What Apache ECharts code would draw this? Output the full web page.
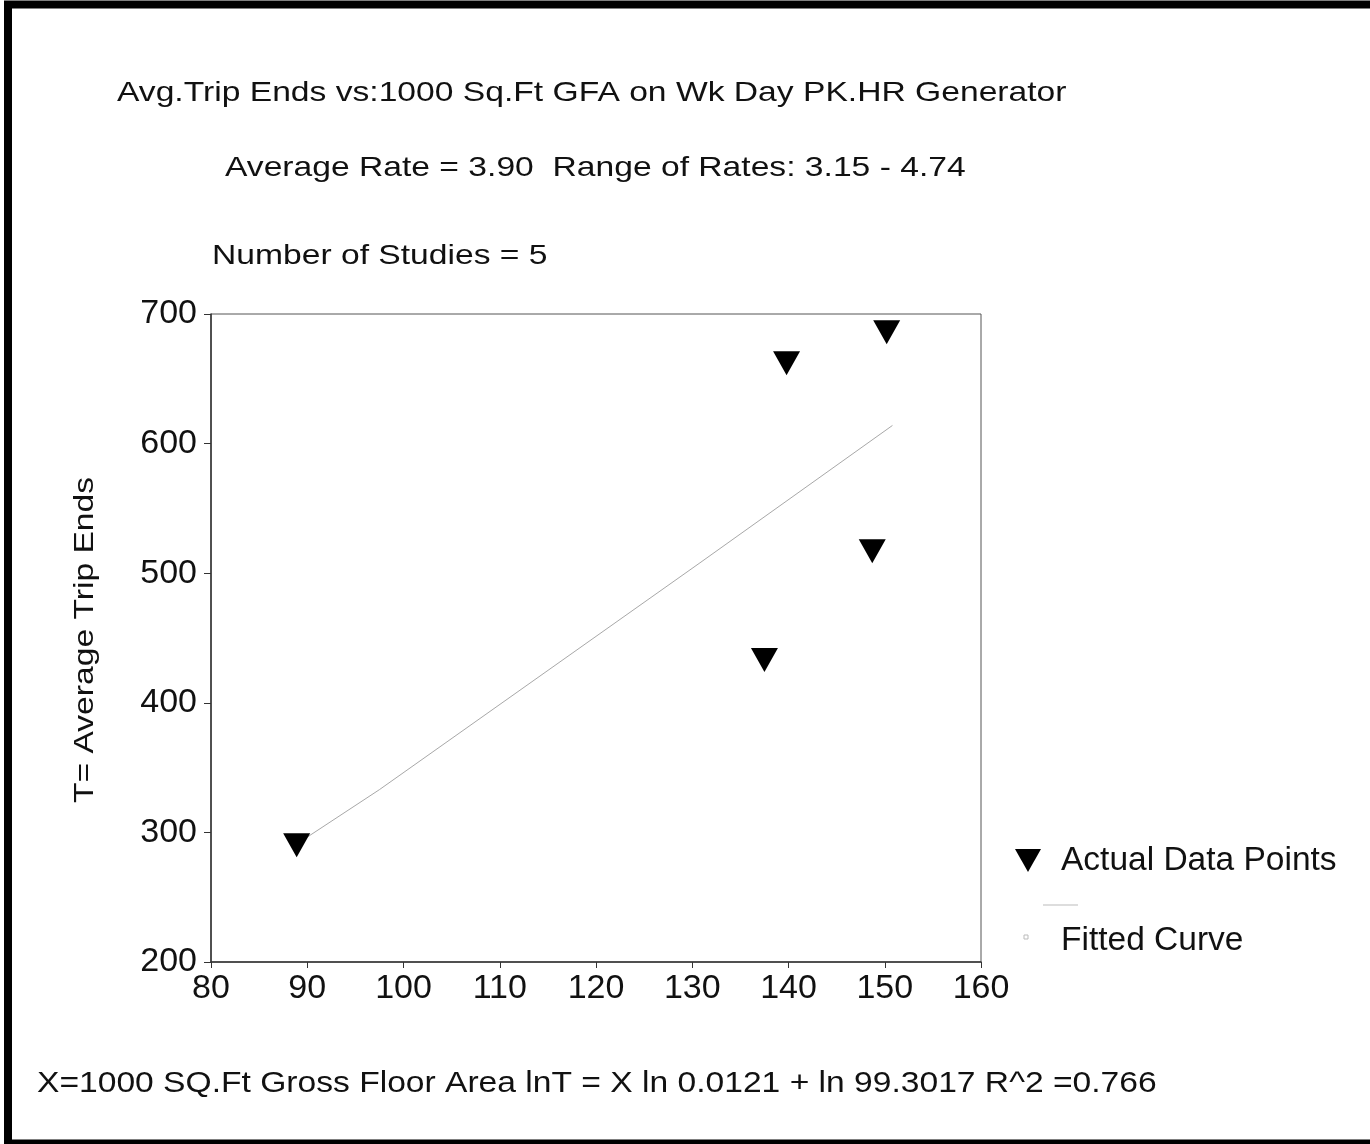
<!DOCTYPE html>
<html>
<head>
<meta charset="utf-8">
<title>Avg. Trip Ends vs 1000 Sq.Ft GFA</title>
<script src="https://cdn.jsdelivr.net/npm/echarts@6/dist/echarts.min.js"></script>
<style>
  html, body { margin: 0; padding: 0; background: #fff; }
  #chart { width: 1370px; height: 1144px; }
</style>
</head>
<body>
<div id="chart"></div>
<script>
// Study observations: gross floor area (1000 sq.ft) and average trip ends
const gfaValues = [88.9, 137.5, 139.8, 148.7, 150.2];
const tripEnds = [290, 433, 662, 517, 686];

// Fitted curve as plotted
const fitGfa = [88.9, 97.5, 130.8, 150.8];
const fitTrips = [291, 333, 508, 614];

// Axis ticks
const xTicks = [80, 90, 100, 110, 120, 130, 140, 150, 160];
const yTicks = [200, 300, 400, 500, 600, 700];

const titleLines = [
  'Avg.Trip Ends vs:1000 Sq.Ft GFA on Wk Day PK.HR Generator',
  'Average Rate = 3.90  Range of Rates: 3.15 - 4.74',
  'Number of Studies = 5'
];
const yTitle = 'T= Average Trip Ends';
const footer = 'X=1000 SQ.Ft Gross Floor Area lnT = X ln 0.0121 + ln 99.3017 R^2 =0.766';
const legendNames = ['Actual Data Points', 'Fitted Curve'];

const FONT = '"Liberation Sans", Arial, Helvetica, sans-serif';
const STRETCH = 1.18;

const chart = echarts.init(document.getElementById('chart'), null, { renderer: 'canvas' });

function label(text, x, y, size, stretch) {
  return {
    type: 'text', x: x, y: y, scaleX: stretch,
    style: {
      text: text, fontFamily: FONT, fontSize: size, fill: '#111',
      align: 'left', verticalAlign: 'middle'
    }
  };
}

chart.setOption({
  animation: false,
  backgroundColor: '#fff',
  grid: {
    left: 211, right: 389, top: 314, bottom: 182,
    show: true, borderColor: '#555', borderWidth: 1
  },
  xAxis: {
    type: 'value',
    min: xTicks[0], max: xTicks[xTicks.length - 1], interval: 10,
    axisLine: { lineStyle: { color: '#333', width: 1.5 } },
    axisTick: { length: 6, lineStyle: { color: '#333' } },
    axisLabel: { color: '#111', fontSize: 34, fontFamily: FONT, margin: 10 },
    splitLine: { show: false }
  },
  yAxis: {
    type: 'value',
    min: yTicks[0], max: yTicks[yTicks.length - 1], interval: 100,
    axisLine: { show: true, lineStyle: { color: '#333', width: 1.5 } },
    axisTick: { show: true, length: 7, lineStyle: { color: '#333' } },
    axisLabel: { color: '#111', fontSize: 34, fontFamily: FONT, margin: 14 },
    splitLine: { show: false }
  },
  series: [
    {
      name: legendNames[1],
      type: 'line',
      data: fitGfa.map((x, i) => [x, fitTrips[i]]),
      showSymbol: false,
      smooth: false,
      lineStyle: { color: '#a8a8a8', width: 1 },
      z: 2
    },
    {
      name: legendNames[0],
      type: 'scatter',
      data: gfaValues.map((x, i) => [x, tripEnds[i]]),
      symbol: 'triangle',
      symbolSize: [27, 24],
      symbolRotate: 180,
      itemStyle: { color: '#000', opacity: 1 },
      z: 3
    }
  ],
  graphic: [
    // outer frame
    {
      type: 'rect', shape: { x: 8, y: 4.5, width: 1400, height: 1139 },
      style: { fill: 'none', stroke: '#000', lineWidth: 8 }, silent: true
    },
    label(titleLines[0], 117, 93, 28.5, STRETCH),
    label(titleLines[1], 225, 168, 28.5, STRETCH),
    label(titleLines[2], 212, 256, 28.5, STRETCH),
    label(footer, 37, 1084, 30, 1.12),
    {
      type: 'text', x: 85, y: 640, rotation: Math.PI / 2, scaleX: STRETCH,
      style: { text: yTitle, fontFamily: FONT, fontSize: 28.5, fill: '#111', align: 'center', verticalAlign: 'middle' }
    },
    // legend
    {
      type: 'polygon', shape: { points: [[1015, 849], [1041, 849], [1028, 872]] },
      style: { fill: '#000' }
    },
    {
      type: 'text', x: 1061, y: 861,
      style: { text: legendNames[0], fontFamily: FONT, fontSize: 33.5, fill: '#111', align: 'left', verticalAlign: 'middle' }
    },
    {
      type: 'line', shape: { x1: 1043, y1: 905, x2: 1078, y2: 905 },
      style: { stroke: '#bbb', lineWidth: 1 }
    },
    {
      type: 'rect', shape: { x: 1024, y: 935, width: 4, height: 4 },
      style: { fill: 'none', stroke: '#bbb', lineWidth: 1 }
    },
    {
      type: 'text', x: 1061, y: 941,
      style: { text: legendNames[1], fontFamily: FONT, fontSize: 33.5, fill: '#111', align: 'left', verticalAlign: 'middle' }
    }
  ]
});
</script>
</body>
</html>
